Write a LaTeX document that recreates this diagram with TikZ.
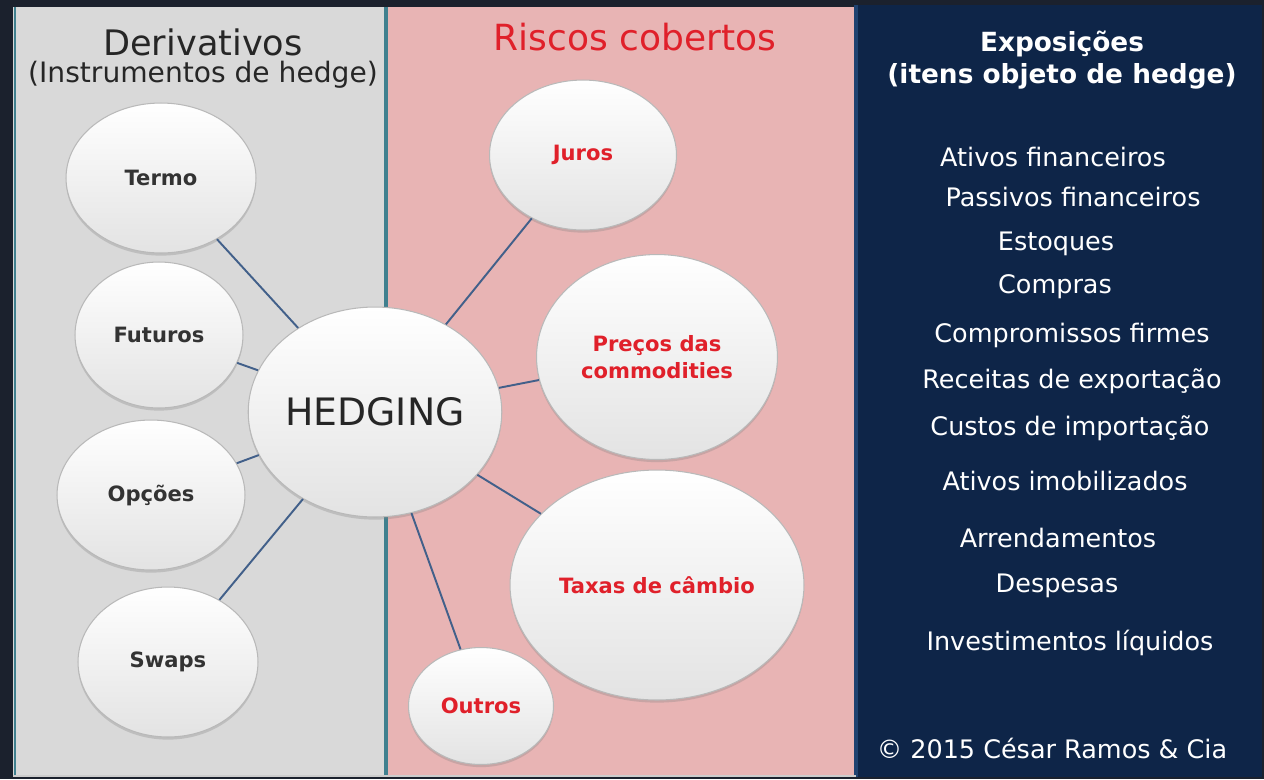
\documentclass[tikz,border=0pt]{standalone}
\usepackage{fontspec}
\setmainfont{DejaVu Sans}
\usetikzlibrary{shapes.geometric, shadows}

\definecolor{outerbg}{HTML}{1B212D}
\definecolor{derivgray}{HTML}{D9D9D9}
\definecolor{riskpink}{HTML}{E8B4B4}
\definecolor{exponavy}{HTML}{0E2548}
\definecolor{edgeteal}{HTML}{40808F}
\definecolor{edgenavy}{HTML}{1F4270}
\definecolor{linkblue}{HTML}{42608A}
\definecolor{riskred}{HTML}{E0202A}
\definecolor{labelgray}{HTML}{333333}

\begin{document}
\begin{tikzpicture}[
  x=0.02cm, y=-0.02cm,
  bubble/.style = {ellipse, draw=gray!55, line width=0.6pt, top color=white, bottom color=gray!22,
    inner sep=0pt, align=center, text=labelgray, font=\fontsize{12}{15}\selectfont\bfseries,
    drop shadow={opacity=0.3, shadow xshift=0pt, shadow yshift=-1.5pt}},
  riskbubble/.style = {bubble, text=riskred},
  link/.style = {draw=linkblue, line width=1.1pt},
  item/.style = {text=white, font=\fontsize{14.5}{18}\selectfont}
]
\useasboundingbox (0,0) rectangle (1264,779);
% panels
\fill[outerbg] (0,0) rectangle (1264,779);
\fill[derivgray] (13,7) rectangle (386,777);
\fill[riskpink] (386,7) rectangle (856,777);
\fill[exponavy] (856,5) rectangle (1262,777);
\draw[edgeteal, line width=1.6pt] (15,7) -- (15,777);
\draw[edgeteal, line width=2.4pt] (386,7) -- (386,777);
\draw[edgenavy, line width=1.8pt] (856,5) -- (856,777);
\draw[gray!40, line width=0.8pt] (13,776) -- (856,776);

% headings
\node[text=black!85, font=\fontsize{20}{24}\selectfont] (derivtitle) at (203,42) {Derivativos};
\node[text=black!85, font=\fontsize{16}{19}\selectfont] (derivsub) at (203,75) {(Instrumentos de hedge)};
\node[text=riskred, font=\fontsize{20.5}{24}\selectfont] (risktitle) at (635,37) {Riscos cobertos};
\node[text=white, font=\fontsize{15}{18}\selectfont\bfseries, align=center] (expotitle) at (1062,60)
  {Exposições\\(itens objeto de hedge)};

% bubbles
\node[bubble, minimum width=3.8cm, minimum height=3.0cm] (termo) at (161,178) {Termo};
\node[bubble, minimum width=3.36cm, minimum height=2.92cm] (futuros) at (159,335) {Futuros};
\node[bubble, minimum width=3.76cm, minimum height=3.0cm] (opcoes) at (151,495) {Opções};
\node[bubble, minimum width=3.6cm, minimum height=3.0cm] (swaps) at (168,662) {Swaps};
\node[bubble, minimum width=4.88cm, minimum height=4.2cm, text=black!85, font=\fontsize{21.5}{26}\selectfont] (hedge) at (375,412) {HEDGING};
\node[riskbubble, minimum width=3.74cm, minimum height=3.0cm] (juros) at (583,155) {Juros};
\node[riskbubble, minimum width=4.82cm, minimum height=4.1cm] (precos) at (657,357) {Preços das\\commodities};
\node[riskbubble, minimum width=5.88cm, minimum height=4.6cm] (taxas) at (657,585) {Taxas de câmbio};
\node[riskbubble, minimum width=2.9cm, minimum height=2.34cm] (outros) at (481,706) {Outros};

% connectors
\foreach \b in {termo, futuros, opcoes, swaps, juros, precos, taxas, outros}
  \draw[link] (hedge) -- (\b);

% exposures
\node[item] (ativos) at (1053,157) {Ativos financeiros};
\node[item] (passivos) at (1073,197) {Passivos financeiros};
\node[item] (estoques) at (1056,244) {Estoques};
\node[item] (compras) at (1055,287) {Compras};
\node[item] (compromissos) at (1072,335) {Compromissos firmes};
\node[item] (receitas) at (1072,381) {Receitas de exportação};
\node[item] (custos) at (1070,428) {Custos de importação};
\node[item] (imobilizados) at (1065,481) {Ativos imobilizados};
\node[item] (arrend) at (1058,538) {Arrendamentos};
\node[item] (despesas) at (1057,586) {Despesas};
\node[item] (invest) at (1070,643) {Investimentos líquidos};
\node[item] (copy) at (1052,748) {© 2015 César Ramos \& Cia};
\end{tikzpicture}
\end{document}
